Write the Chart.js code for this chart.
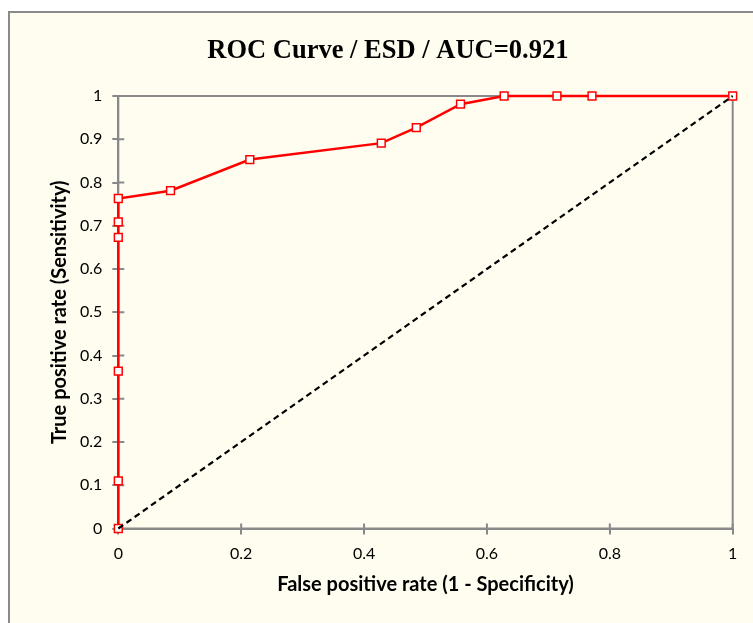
<!DOCTYPE html>
<html><head><meta charset="utf-8">
<script src="https://cdn.jsdelivr.net/npm/chart.js@4"></script>
<style>html,body{margin:0;padding:0;background:#fff;overflow:hidden}
#wrap{position:absolute;left:0;top:0;width:753px;height:623px}</style>
</head><body><div id="wrap"><canvas id="c" width="753" height="623"></canvas></div>
<script>
const titleText = 'ROC Curve / ESD / AUC=0.921';
const xTitle = 'False positive rate (1 - Specificity)';
const yTitle = 'True positive rate (Sensitivity)';
const fpr = [0, 0, 0, 0, 0, 0, 0.085, 0.214, 0.428, 0.485, 0.557, 0.628, 0.714, 0.771, 1];
const tpr = [0, 0.110, 0.364, 0.673, 0.709, 0.763, 0.781, 0.853, 0.891, 0.927, 0.981, 1, 1, 1, 1];
const refX = [0, 1];
const refY = [0, 1];
const xTicks = [0, 0.2, 0.4, 0.6, 0.8, 1];
const yTicks = [0, 0.1, 0.2, 0.3, 0.4, 0.5, 0.6, 0.7, 0.8, 0.9, 1];

const AX = '#898989';
const frame = {
  id: 'frame',
  beforeDraw(chart) {
    const ctx = chart.ctx;
    ctx.save();
    ctx.fillStyle = '#ffffff';
    ctx.fillRect(0, 0, chart.width, chart.height);
    ctx.fillStyle = '#FFFDF0';
    ctx.fillRect(9, 12, chart.width - 9, chart.height - 12);
    ctx.strokeStyle = '#8a8a8a';
    ctx.lineWidth = 2;
    ctx.beginPath();
    ctx.moveTo(9, chart.height); ctx.lineTo(9, 12); ctx.lineTo(chart.width, 12);
    ctx.stroke();
    ctx.restore();
  },
  beforeDatasetsDraw(chart) {
    const ctx = chart.ctx, a = chart.chartArea;
    const xs = chart.scales.x, ys = chart.scales.y;
    ctx.save();
    ctx.strokeStyle = AX;
    ctx.lineWidth = 2;
    ctx.strokeRect(a.left, a.top, a.right - a.left, a.bottom - a.top);
    ctx.beginPath();
    xTicks.forEach(v => { const p = xs.getPixelForValue(v); ctx.moveTo(p, a.bottom); ctx.lineTo(p, a.bottom - 5); });
    yTicks.forEach(v => { const p = ys.getPixelForValue(v); ctx.moveTo(a.left, p); ctx.lineTo(a.left + 6, p); });
    ctx.stroke();
    ctx.restore();
  }
};

new Chart(document.getElementById('c'), {
  type: 'line',
  data: {
    datasets: [
      {
        data: refX.map((x, i) => ({x, y: refY[i]})),
        borderColor: '#000000', borderWidth: 2.2, borderDash: [6, 4],
        pointRadius: 0, clip: false, fill: false
      },
      {
        data: fpr.map((x, i) => ({x, y: tpr[i]})),
        borderColor: '#FF0000', borderWidth: 2.5,
        pointStyle: 'rect', pointRadius: 5.5, pointBackgroundColor: '#ffffff',
        pointBorderColor: '#FF0000', pointBorderWidth: 1.5,
        clip: false, fill: false, tension: 0
      }
    ]
  },
  options: {
    responsive: false, animation: false,
    layout: { padding: { left: 43, right: 20.3, top: 0, bottom: 0 } },
    plugins: {
      legend: { display: false }, tooltip: { enabled: false },
      title: {
        display: true, text: titleText, color: '#000',
        font: { family: 'Liberation Serif', size: 26.5, weight: 'bold', lineHeight: 1.2 },
        padding: { top: 34.9, bottom: 29.3 }
      }
    },
    scales: {
      x: {
        type: 'linear', min: 0, max: 1,
        afterBuildTicks: s => { s.ticks = xTicks.map(v => ({value: v})); },
        afterFit: s => { s.height = 94.5; },
        border: { display: true, color: AX, width: 2 },
        grid: { drawOnChartArea: false, color: AX, lineWidth: 2, tickLength: 6 },
        ticks: { color: '#000', padding: 10, maxRotation: 0, font: { family: 'Lato', size: 16 },
          callback: v => String(Number(v.toFixed(1))) },
        title: { display: true, text: xTitle, color: '#000',
          font: { family: 'Lato', size: 20, weight: 'bold', lineHeight: 1.2 },
          padding: { top: 0, bottom: 26 } }
      },
      y: {
        type: 'linear', min: 0, max: 1,
        afterBuildTicks: s => { s.ticks = yTicks.map(v => ({value: v})); },
        afterFit: s => { s.width = 75.3; },
        border: { display: true, color: AX, width: 2 },
        grid: { drawOnChartArea: false, color: AX, lineWidth: 2, tickLength: 6 },
        ticks: { color: '#000', padding: 10, font: { family: 'Lato', size: 16 },
          callback: v => String(Number(v.toFixed(1))) },
        title: { display: true, text: yTitle, color: '#000',
          font: { family: 'Lato', size: 20, weight: 'bold', lineHeight: 1.2 },
          padding: { top: 5, bottom: 0 } }
      }
    }
  },
  plugins: [frame]
});
</script></body></html>
